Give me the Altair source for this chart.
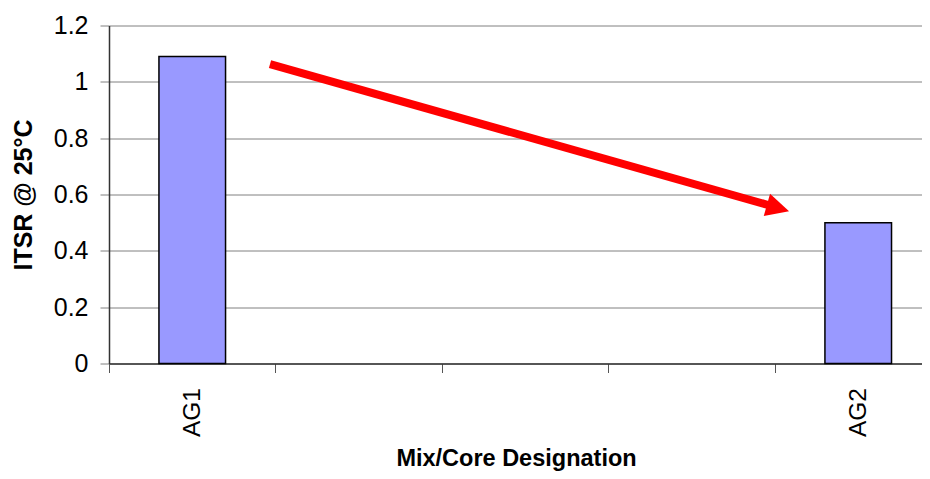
import json
import altair as alt
import pandas as pd

# ---- data ----
categories = ["AG1", "", "", "", "AG2"]
itsr = [1.09, None, None, None, 0.50]
y_ticks = [0, 0.2, 0.4, 0.6, 0.8, 1.0, 1.2]

# arrow annotation (data coordinates: x in category units, y in ITSR units)
arrow_start_x = [0.967]
arrow_start_y = [1.063]
arrow_end_x = [3.969]
arrow_end_y = [0.561]
head_x = [4.018]
head_y = [0.552]
head_angle = [15.8]

bars = pd.DataFrame({"cat": categories, "itsr": itsr, "idx": list(range(len(categories)))})
bars = bars.dropna()

shaft = pd.DataFrame({"x": arrow_start_x, "y": arrow_start_y, "x2": arrow_end_x, "y2": arrow_end_y})
head = pd.DataFrame({"x": head_x, "y": head_y, "angle": head_angle})

FONT = "Liberation Sans"
x_dom = [0, 4.883]
x_scale = alt.Scale(domain=x_dom, nice=False, zero=False, padding=0)
y_scale = alt.Scale(domain=[0, 1.2], nice=False, padding=0)

cat_arr = json.dumps(categories)
x_axis = alt.Axis(
    title="Mix/Core Designation",
    values=[0, 1, 2, 3, 4] + [i + 0.5 for i in range(len(categories))],
    labelExpr=f"datum.value % 1 == 0 ? '' : {cat_arr}[floor(datum.value)]",
    tickOpacity={"condition": {"test": "datum.value % 1 != 0", "value": 0}, "value": 1},
    labelAngle=-90,
    labelAlign="right",
    labelBaseline="middle",
    labelPadding=15,
    labelFontSize=24.5,
    labelFont=FONT,
    labelColor="black",
    tickSize=9,
    tickColor="#555555",
    domainColor="#333333",
    domainWidth=1.5,
    grid=False,
    titleFont=FONT,
    titleFontSize=23.5,
    titleFontWeight="bold",
    titleColor="black",
    titleX=407,
    titleY=102,
    titleBaseline="alphabetic",
    titleAnchor="start",
    titleAlign="center",
    labelOverlap=False,
)

y_axis = alt.Axis(
    title="ITSR @ 25°C",
    values=y_ticks,
    format="~g",
    labelFontSize=25,
    labelFont=FONT,
    labelColor="black",
    labelPadding=12,
    tickSize=9,
    tickColor="#808080",
    domainColor="#333333",
    domainWidth=1.5,
    grid=True,
    gridColor="#808080",
    gridWidth=1,
    titleFont=FONT,
    titleFontSize=25,
    titleFontWeight="bold",
    titleColor="black",
    titleX=-78,
    titleY=169,
    titleAngle=270,
    titleBaseline="alphabetic",
    titleAlign="center",
)

bar_layer = (
    alt.Chart(bars)
    .transform_calculate(x0="datum.idx + 0.3", x1="datum.idx + 0.7")
    .mark_bar(fill="#9999FF", stroke="black", strokeWidth=1.5)
    .encode(
        x=alt.X("x0:Q", scale=x_scale, axis=x_axis),
        x2="x1:Q",
        y=alt.Y("itsr:Q", scale=y_scale, axis=y_axis),
        y2=alt.datum(0),
    )
)

shaft_layer = (
    alt.Chart(shaft)
    .mark_rule(color="#FF0000", strokeWidth=8, strokeCap="butt")
    .encode(
        x=alt.X("x:Q", scale=x_scale),
        y=alt.Y("y:Q", scale=y_scale),
        x2="x2:Q",
        y2="y2:Q",
    )
)

head_layer = (
    alt.Chart(head)
    .mark_point(shape="M-1,-1L1,0L-1,1Z", filled=True, color="#FF0000", opacity=1, size=529, strokeWidth=0)
    .encode(
        x=alt.X("x:Q", scale=x_scale),
        y=alt.Y("y:Q", scale=y_scale),
        angle=alt.Angle("angle:Q", scale=None),
    )
)

chart = (
    alt.layer(bar_layer, shaft_layer, head_layer)
    .properties(
        width=813,
        height=338,
        autosize=alt.AutoSizeParams(type="none"),
        padding={"left": 101, "top": 17.5, "right": 0, "bottom": 107.5},
        background="white",
    )
    .configure_view(stroke=None)
)

chart.save("out.html", embed_options={"renderer": "svg", "actions": False})
